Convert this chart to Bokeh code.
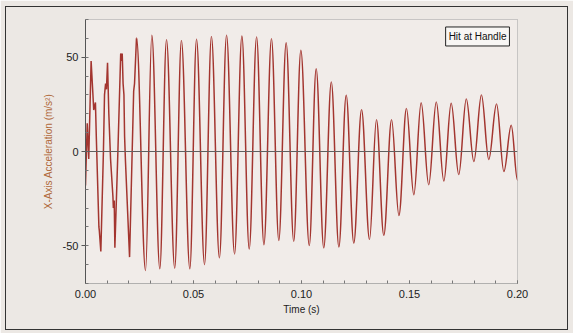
import numpy as np
from bokeh.plotting import figure
from bokeh.models import (Range1d, Span, Label, FixedTicker, InlineStyleSheet,
                          PrintfTickFormatter, ColumnDataSource)
from bokeh.embed import file_html
from bokeh.resources import INLINE

# ---- data ----
# irregular start of the signal (time in s, acceleration in m/s^2)
early_t = [0.0000, 0.0008, 0.0015, 0.0026, 0.0034, 0.0038, 0.0046, 0.0050, 0.0062,
           0.0064, 0.0071, 0.0083, 0.0088, 0.0093, 0.0097, 0.0102, 0.0108, 0.0116,
           0.0127, 0.0129, 0.0133, 0.0136, 0.0150, 0.0160, 0.0163, 0.0167, 0.0170,
           0.0174, 0.0178, 0.0181, 0.0185, 0.0204, 0.0223, 0.0227, 0.0236]
early_v = [-18, 15, -4, 48, 31, 22, 26, 8, -40,
           -42, -53, 0, 30, 36, 33, 47, 20, -4,
           -24, -30, -26, -51, 0, 40, 52, 48, 52,
           36, 30, 8, -5, -56, 32, 36, 60]

# regular oscillation: peaks and troughs
peak_t = [0.0236, 0.0307, 0.0375, 0.0444, 0.0514, 0.0583, 0.0653, 0.0724, 0.0792,
          0.0861, 0.0929, 0.0997, 0.1068, 0.1138, 0.1207, 0.1278, 0.1347, 0.1417,
          0.1486, 0.1554, 0.1624, 0.1693, 0.1763, 0.1833, 0.1903, 0.1971]
peak_v = [60.3, 61.6, 59.3, 58.9, 59.5, 61.0, 61.6, 61.2, 60.7,
          59.8, 57.7, 53.7, 43.9, 36.9, 29.8, 22.2, 16.9, 16.8,
          22.8, 25.9, 26.3, 25.6, 27.9, 30.0, 25.2, 13.9]
trough_t = [0.0278, 0.0344, 0.0413, 0.0483, 0.0551, 0.0620, 0.0690, 0.0758, 0.0826,
            0.0895, 0.0964, 0.1036, 0.1103, 0.1173, 0.1242, 0.1315, 0.1381, 0.1451,
            0.1520, 0.1589, 0.1659, 0.1728, 0.1798, 0.1867, 0.1937]
trough_v = [-63.1, -62.2, -61.9, -62.2, -59.9, -56.4, -54.3, -51.7, -49.4,
            -47.2, -47.6, -49.9, -51.1, -50.6, -48.5, -46.6, -44.4, -33.9,
            -22.9, -17.6, -15.7, -12.2, -5.3, -4.2, -10.6]
end_t = [0.2000]
end_v = [-15.3]

x_ticks = [0.00, 0.05, 0.10, 0.15, 0.20]
y_ticks = [-50, 0, 50]
legend_text = "Hit at Handle"

# ---- figure ----
BG = "#ece8e4"
FRAME_BG = "#f1ece9"
LINE = "#a3352f"

p = figure(width=573, height=333, output_backend="svg", toolbar_location=None,
           x_range=Range1d(0, 0.2), y_range=Range1d(-70, 70),
           min_border_left=85, min_border_right=56, min_border_top=19,
           min_border_bottom=50)
p.background_fill_color = FRAME_BG
p.border_fill_color = BG
p.outline_line_color = "#9a9a9a"
p.outline_line_dash = "1 1"
p.grid.visible = False
# dark outer frame around the whole chart (page decoration)
p.stylesheets = [InlineStyleSheet(css="""
:host::after {
  content: "";
  position: absolute;
  left: 5px; top: 6px; right: 5px; bottom: 3px;
  border: 1.5px solid #333333;
  pointer-events: none;
  z-index: 1000;
}
""")]

# early irregular part as polyline
p.line(early_t, early_v, line_color=LINE, line_width=1.5)

# regular part: smooth half-waves between successive extrema
ext_t = []
ext_v = []
for i in range(len(peak_t)):
    ext_t.append(peak_t[i]); ext_v.append(peak_v[i])
    if i < len(trough_t):
        ext_t.append(trough_t[i]); ext_v.append(trough_v[i])
ext_t += end_t
ext_v += end_v
a = 0.3634
x0 = np.array(ext_t[:-1]); x1 = np.array(ext_t[1:])
y0 = np.array(ext_v[:-1]); y1 = np.array(ext_v[1:])
dx = x1 - x0
src = ColumnDataSource(dict(x0=x0, y0=y0, x1=x1, y1=y1,
                            cx0=x0 + a * dx, cy0=y0, cx1=x1 - a * dx, cy1=y1))
p.bezier(x0="x0", y0="y0", x1="x1", y1="y1", cx0="cx0", cy0="cy0",
         cx1="cx1", cy1="cy1", source=src, line_color=LINE, line_width=1.5)

# zero line drawn over the curve
p.add_layout(Span(location=0, dimension="width", line_color="#606060",
                  line_width=1, level="overlay"))

# axes
FONT = "Liberation Sans"
xa = p.xaxis[0]
xa.ticker = FixedTicker(ticks=x_ticks, minor_ticks=[i * 0.01 for i in range(21)])
xa.formatter = PrintfTickFormatter(format="%.2f")
xa.axis_label = "Time (s)"
xa.axis_label_text_font = FONT
xa.axis_label_text_font_style = "normal"
xa.axis_label_text_font_size = "10px"
xa.axis_label_text_color = "#222222"
xa.axis_label_standoff = 3
xa.major_label_text_font = FONT
xa.major_label_text_font_size = "11px"
xa.major_label_text_color = "#222222"
xa.major_label_standoff = 6
xa.axis_line_color = "#9a9a9a"
xa.axis_line_dash = "1 1"
xa.major_tick_in = 3
xa.major_tick_out = 0
xa.minor_tick_in = 3
xa.minor_tick_out = 0
xa.major_tick_line_color = "#777777"
xa.minor_tick_line_color = "#777777"

ya = p.yaxis[0]
ya.ticker = FixedTicker(ticks=y_ticks, minor_ticks=list(range(-70, 71, 10)))
ya.formatter = PrintfTickFormatter(format="%d")
ya.axis_label = "X-Axis Acceleration (m/s²)"
ya.axis_label_text_font = FONT
ya.axis_label_text_font_style = "normal"
ya.axis_label_text_font_size = "10px"
ya.axis_label_text_color = "#b0683a"
ya.axis_label_standoff = 6
ya.major_label_text_font = FONT
ya.major_label_text_font_size = "11px"
ya.major_label_text_color = "#222222"
ya.major_label_standoff = 3
ya.axis_line_color = "#555555"
ya.major_tick_in = 0
ya.major_tick_out = 4
ya.minor_tick_in = 3
ya.minor_tick_out = 0
ya.major_tick_line_color = "#555555"
ya.minor_tick_line_color = "#777777"

# "legend" box
p.add_layout(Label(x=0.1815, y=61, text=legend_text, text_align="center",
                   text_baseline="middle", text_font=FONT, text_font_size="10px",
                   text_color="#111111", border_line_color="#222222",
                   border_line_width=1, background_fill_color="#f8f6f4",
                   padding=(3, 4)))

open("out.html", "w").write(file_html(p, INLINE))
